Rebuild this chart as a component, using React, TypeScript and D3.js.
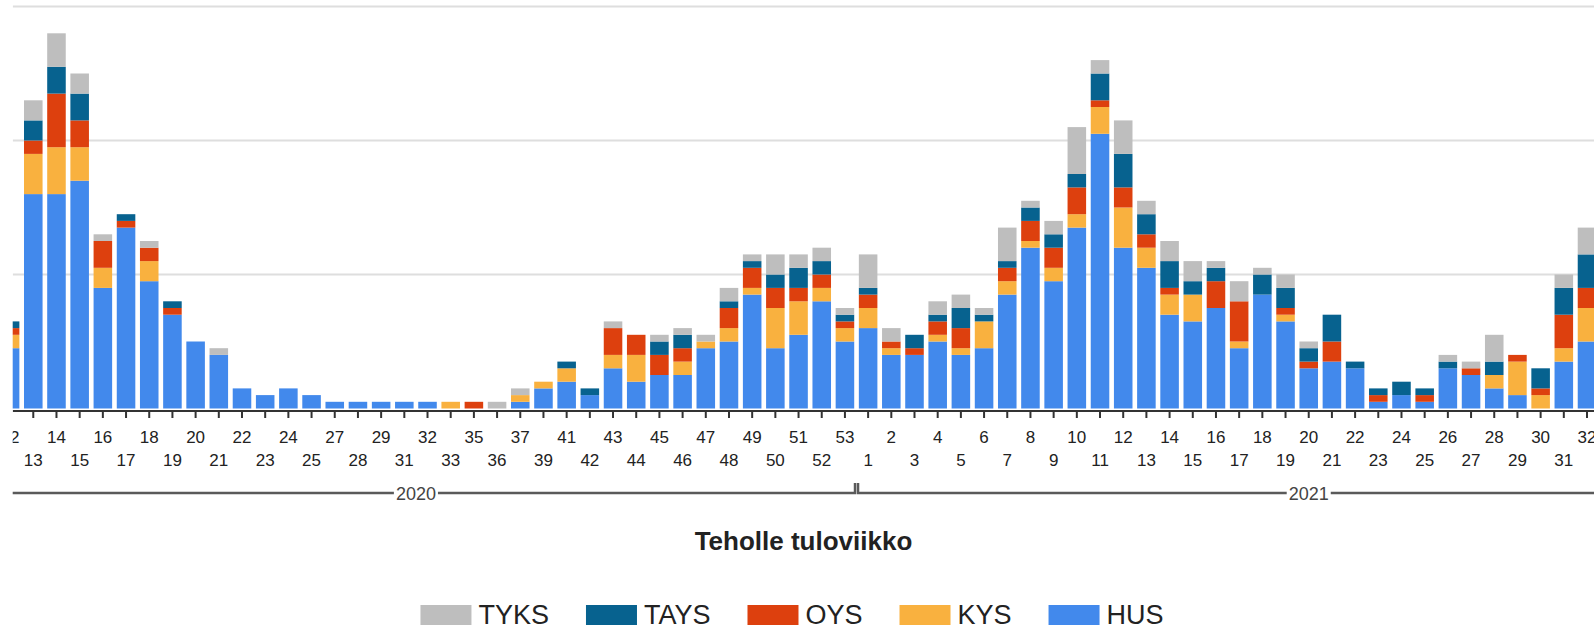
import React, { useEffect } from "react";
import * as d3 from "d3";

// ---- DATA ----
const weekLabels: string[] = [
  "12","13","14","15","16","17","18","19","20","21","22","23","24","25","27","28","29","31","32","33","35","36","37","39","41","42","43","44","45","46","47","48","49","50","51","52","53",
  "1","2","3","4","5","6","7","8","9","10","11","12","13","14","15","16","17","18","19","20","21","22","23","24","25","26","27","28","29","30","31","32",
];

const HUS: number[] = [
  9,32,32,34,18,27,19,14,10,8,3,2,3,2,1,1,1,1,1,0,0,0,1,3,4,2,6,4,5,5,9,10,17,9,11,16,10,
  12,8,8,10,8,9,17,24,19,27,41,24,21,14,13,15,9,17,13,6,7,6,1,2,1,6,5,3,2,0,7,10,
];
const KYS: number[] = [
  2,6,7,5,3,0,3,0,0,0,0,0,0,0,0,0,0,0,0,1,0,0,1,1,2,0,2,4,0,2,1,2,1,6,5,2,2,
  3,1,0,1,1,4,2,1,2,2,4,6,3,3,4,0,1,0,1,0,0,0,0,0,0,0,0,2,5,2,2,5,
];
const OYS: number[] = [
  1,2,8,4,4,1,2,1,0,0,0,0,0,0,0,0,0,0,0,0,1,0,0,0,0,0,4,3,3,2,0,3,3,3,2,2,1,
  2,1,1,2,3,0,2,3,3,4,1,3,2,1,0,4,6,0,1,1,3,0,1,0,1,0,1,0,1,1,5,3,
];
const TAYS: number[] = [
  1,3,4,4,0,1,0,1,0,0,0,0,0,0,0,0,0,0,0,0,0,0,0,0,1,1,0,0,2,2,0,1,1,2,3,2,1,
  1,0,2,1,3,1,1,2,2,2,4,5,3,4,2,2,0,3,3,2,4,1,1,2,1,1,0,2,0,3,4,5,
];
const TYKS: number[] = [
  0,3,5,3,1,0,1,0,0,1,0,0,0,0,0,0,0,0,0,0,0,1,1,0,0,0,1,0,1,1,1,2,1,3,2,2,1,
  5,2,0,2,2,1,5,1,2,7,2,5,2,3,3,1,3,1,2,1,0,0,0,0,0,1,1,4,0,0,2,4,
];

const seriesKeys = ["HUS", "KYS", "OYS", "TAYS", "TYKS"];
const legendOrder = ["TYKS", "TAYS", "OYS", "KYS", "HUS"];
const yTicks: number[] = [0, 20, 40, 60];
const yearSpans = [
  { label: "2020", first: -1, last: 36 },
  { label: "2021", first: 37, last: 75 },
];
const axisTitle = "Teholle tuloviikko";

const colors: Record<string, string> = {
  HUS: "#4289ec",
  KYS: "#f9b13f",
  OYS: "#dd400e",
  TAYS: "#07628f",
  TYKS: "#bebebe",
};

const W = 1594;
const H = 627;
const FONT = "'Liberation Sans', Arial, Helvetica, sans-serif";

function measure(text: string, font: string): number {
  const c = document.createElement("canvas").getContext("2d");
  if (!c) return text.length * 10;
  c.font = font;
  return c.measureText(text).width;
}

export default function App() {
  useEffect(() => {
    document.body.style.margin = "0";
    document.body.style.overflow = "hidden";
  }, []);

  const rows = weekLabels.map((w, i) => ({
    i,
    HUS: HUS[i],
    KYS: KYS[i],
    OYS: OYS[i],
    TAYS: TAYS[i],
    TYKS: TYKS[i],
  }));

  const x = d3
    .scaleBand<number>()
    .domain(d3.range(weekLabels.length))
    .range([-1.5, 1598.6])
    .paddingInner(0.2)
    .paddingOuter(0.1);
  const y = d3.scaleLinear().domain([0, 60]).range([408.5, 6.5]);

  const stacked = d3.stack<any>().keys(seriesKeys)(rows);
  const step = x.step();
  const bw = x.bandwidth();
  const center = (i: number) => (x(0) as number) + bw / 2 + step * i;
  const boundary = (i: number) => center(i) - step / 2;

  const clipLeft = 12.7;
  const axisY = 411;

  // legend layout
  const legendSize = 27;
  const legendFont = `${legendSize}px ${FONT}`;
  const sw = 51, gap = 7, itemGap = 37;
  const widths = legendOrder.map((k) => measure(k, legendFont));
  const total = widths.reduce((a, b) => a + b, 0) + legendOrder.length * (sw + gap) + (legendOrder.length - 1) * itemGap;
  let lx = 792 - total / 2;
  const legendItems = legendOrder.map((k, j) => {
    const it = { k, x: lx, tw: widths[j] };
    lx += sw + gap + widths[j] + itemGap;
    return it;
  });

  const yearFont = 18;
  const yearLineY = 493;

  return (
    <svg
      width={W}
      height={H}
      style={{ position: "absolute", left: 0, top: 0, display: "block", background: "#fff" }}
      fontFamily={FONT}
    >
      <defs>
        <clipPath id="plotclip">
          <rect x={clipLeft} y={0} width={W - clipLeft} height={520} />
        </clipPath>
      </defs>
      <rect x={0} y={0} width={W} height={H} fill="#fff" />
      <g clipPath="url(#plotclip)">
        {/* gridlines */}
        {yTicks.filter((t) => t > 0).map((t) => (
          <line key={t} x1={clipLeft} x2={W} y1={y(t)} y2={y(t)} stroke="#dedede" strokeWidth={2} />
        ))}
        {/* bars */}
        {stacked.map((s) => (
          <g key={s.key} fill={colors[s.key]}>
            {s.map((d, i) =>
              d[1] - d[0] > 0 ? (
                <rect
                  key={i}
                  x={x(i) as number}
                  width={bw}
                  y={y(d[1])}
                  height={y(d[0]) - y(d[1])}
                />
              ) : null
            )}
          </g>
        ))}
        {/* x axis line */}
        <line x1={clipLeft} x2={W} y1={axisY} y2={axisY} stroke="#333" strokeWidth={2} />
        {weekLabels.map((w, i) => (
          <g key={i}>
            <line x1={center(i)} x2={center(i)} y1={axisY} y2={418} stroke="#333" strokeWidth={2} />
            <text
              x={center(i)}
              y={i % 2 === 0 ? 442.5 : 466}
              textAnchor="middle"
              fontSize={17}
              fill="#222"
            >
              {w}
            </text>
          </g>
        ))}
        {/* year axis */}
        {yearSpans.map((ys, k) => {
          const x0 = boundary(ys.first) + (k === 0 ? 0 : 1.5);
          const x1 = boundary(ys.last + 1) - (k === 0 ? 1.5 : 0);
          const cx = (boundary(ys.first) + boundary(ys.last + 1)) / 2;
          const tw = measure(ys.label, `${yearFont}px ${FONT}`);
          return (
            <g key={ys.label}>
              <path
                d={`M${x0},483 V${yearLineY} H${x1} V483`}
                fill="none"
                stroke="#5a5a5a"
                strokeWidth={2.5}
              />
              <rect x={cx - tw / 2 - 2} y={yearLineY - 8} width={tw + 4} height={16} fill="#fff" />
              <text x={cx} y={yearLineY + 6.5} textAnchor="middle" fontSize={yearFont} fill="#444">
                {ys.label}
              </text>
            </g>
          );
        })}
      </g>
      {/* axis title */}
      <text x={803.5} y={550} textAnchor="middle" fontSize={26} fontWeight="bold" fill="#222">
        {axisTitle}
      </text>
      {/* legend */}
      {legendItems.map((it) => (
        <g key={it.k}>
          <rect x={it.x} y={605} width={sw} height={20} fill={colors[it.k]} />
          <text x={it.x + sw + gap} y={623.5} fontSize={legendSize} fill="#222">
            {it.k}
          </text>
        </g>
      ))}
    </svg>
  );
}
